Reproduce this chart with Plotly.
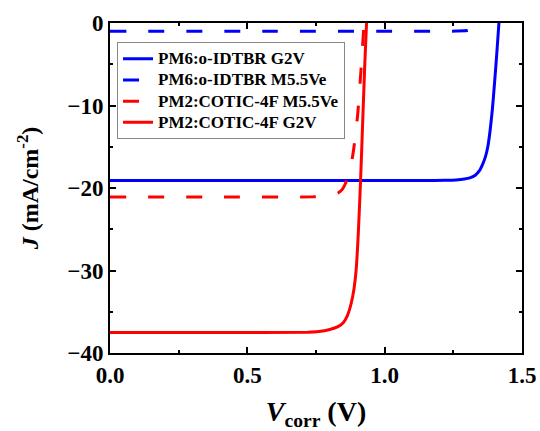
import plotly.graph_objects as go

# PM6:o-IDTBR G2V (blue solid)
v_pm6_g2v = [0.0, 0.60, 1.15, 1.22, 1.26, 1.29, 1.31, 1.33, 1.345, 1.357, 1.367, 1.376, 1.384, 1.392, 1.40, 1.408, 1.416]
j_pm6_g2v = [-19.1, -19.1, -19.1, -19.07, -19.02, -18.92, -18.78, -18.45, -17.9, -17.1, -16.2, -14.9, -13.0, -10.5, -7.3, -3.8, 0.0]

# PM6:o-IDTBR M5.5Ve (blue dashed)
v_pm6_m55 = [0.0, 0.60, 1.20, 1.26, 1.30, 1.32, 1.335, 1.345]
j_pm6_m55 = [-1.0, -1.0, -1.0, -0.98, -0.92, -0.72, -0.38, 0.0]

# PM2:COTIC-4F M5.5Ve (red dashed)
v_pm2_m55 = [0.0, 0.40, 0.74, 0.78, 0.81, 0.83, 0.845, 0.858, 0.870, 0.883, 0.893, 0.902, 0.910, 0.918, 0.925]
j_pm2_m55 = [-21.1, -21.1, -21.07, -21.0, -20.85, -20.6, -20.2, -19.4, -18.0, -16.2, -13.8, -11.0, -7.5, -3.6, 0.0]

# PM2:COTIC-4F G2V (red solid)
v_pm2_g2v = [0.0, 0.40, 0.72, 0.76, 0.80, 0.83, 0.85, 0.865, 0.878, 0.888, 0.896, 0.904, 0.912, 0.920, 0.927, 0.934]
j_pm2_g2v = [-37.5, -37.5, -37.48, -37.4, -37.15, -36.8, -36.3, -35.4, -34.0, -32.3, -30.0, -25.5, -19.3, -12.0, -5.5, 0.0]

names = ["PM6:o-IDTBR G2V", "PM6:o-IDTBR M5.5Ve", "PM2:COTIC-4F M5.5Ve", "PM2:COTIC-4F G2V"]
xs = [v_pm6_g2v, v_pm6_m55, v_pm2_m55, v_pm2_g2v]
ys = [j_pm6_g2v, j_pm6_m55, j_pm2_m55, j_pm2_g2v]
colors = ["#0000FF", "#0000FF", "#FF0000", "#FF0000"]
dashes = ["solid", "16px,22px", "16px,22px", "solid"]

FONT = "Liberation Serif, Times New Roman, serif"

fig = go.Figure()
for x, y, n, c, d in zip(xs, ys, names, colors, dashes):
    fig.add_trace(go.Scatter(x=x, y=y, name="<span style='font-size:17px'>" + n + "</span>",
                             mode="lines",
                             line=dict(color=c, width=3, dash=d, shape="spline", smoothing=0.6)))

axis_common = dict(
    showline=True, linewidth=2, linecolor="black", mirror="ticks",
    ticks="inside", ticklen=6, tickwidth=2, tickcolor="black",
    showgrid=False, zeroline=False, ticklabeloverflow="allow", automargin=False,
    tickfont=dict(family=FONT, size=23, color="black", weight="bold"),
)

fig.update_xaxes(range=[0, 1.5], dtick=0.5, tick0=0, tickformat=".1f",
                 minor=dict(dtick=0.25, ticks="inside", ticklen=3, tickwidth=2, tickcolor="black"),
                 title=dict(text="<i>V</i><sub>corr</sub> (V)", standoff=20,
                            font=dict(family=FONT, size=28, color="black", weight="bold")),
                 **axis_common)
fig.update_yaxes(range=[-40, 0], dtick=10, tick0=0,
                 minor=dict(dtick=5, ticks="inside", ticklen=3, tickwidth=2, tickcolor="black"),
                 title=dict(text="<i>J</i> (mA/cm<sup>-2</sup>)", standoff=22,
                            font=dict(family=FONT, size=24, color="black", weight="bold")),
                 **axis_common)

fig.update_layout(
    width=540, height=431,
    margin=dict(l=110, r=18, t=23, b=78),
    paper_bgcolor="white", plot_bgcolor="white",
    showlegend=True,
    legend=dict(x=0.017, y=0.942, xanchor="left", yanchor="top",
                bgcolor="white", bordercolor="#888888", borderwidth=1,
                font=dict(family=FONT, size=14, color="black", weight="bold"),
                tracegroupgap=0),
)

# remove the default 8px body margin so the figure fills the window exactly
fig.write_html("out.html", config={"displayModeBar": False},
               post_script="document.body.style.margin='0';")
